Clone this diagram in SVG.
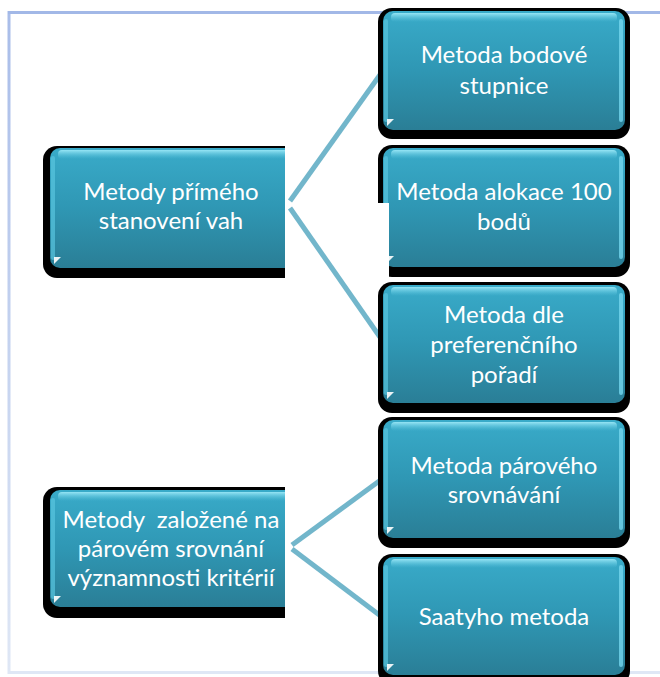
<svg xmlns="http://www.w3.org/2000/svg" width="660" height="677" viewBox="0 0 660 677">
  <defs>
    <linearGradient id="bodyFill" x1="0" y1="0" x2="0" y2="1">
      <stop offset="0" stop-color="#39abc9"/>
      <stop offset="0.5" stop-color="#2f97b4"/>
      <stop offset="1" stop-color="#2a7e96"/>
    </linearGradient>
    <linearGradient id="gloss" x1="0" y1="0" x2="0" y2="1">
      <stop offset="0" stop-color="#9be8f7" stop-opacity="0.95"/>
      <stop offset="1" stop-color="#5cc6e0" stop-opacity="0"/>
    </linearGradient>
    <linearGradient id="frameStroke" x1="0" y1="0" x2="0" y2="1">
      <stop offset="0" stop-color="#a9bde9"/>
      <stop offset="1" stop-color="#dfe7f5"/>
    </linearGradient>
    <clipPath id="leftClip" clipPathUnits="userSpaceOnUse">
      <rect x="0" y="0" width="285" height="677"/>
    </clipPath>
  </defs>
  <style>
    .shadow { fill: #000; }
    .body { fill: url(#bodyFill); }
    .gloss { fill: url(#gloss); }
    .edgeL { fill: #58c4de; opacity: 0.7; }
    .edgeR { fill: #74d6ee; opacity: 0.8; }
    .mark { fill: #ffffff; opacity: 0.9; }
    .label { font-family: Lato, "Open Sans", "Noto Sans", sans-serif; font-size: 24px; fill: #ffffff; text-anchor: middle; white-space: pre; }
    .link { stroke: #72b6cb; stroke-width: 5; fill: none; }
  </style>

  <!-- outer frame -->
  <rect x="0" y="0" width="660" height="677" fill="#ffffff"/>
  <rect x="9" y="12.5" width="660" height="660" fill="none" stroke="url(#frameStroke)" stroke-width="3"/>
  <line x1="8" y1="12.5" x2="660" y2="12.5" stroke="#a2b8e7" stroke-width="3"/>

  <!-- left column -->
  <g id="node-prime">
    <g clip-path="url(#leftClip)">
      <rect class="shadow" x="43" y="146" width="255" height="132" rx="14"/>
      <rect class="body" x="50" y="148" width="245" height="120" rx="10"/>
      <rect class="gloss" x="58" y="150" width="230" height="9" rx="4"/>
      <rect class="edgeL" x="51" y="156" width="4" height="104" rx="2"/>
      <path class="mark" d="M54 257 h7 l-7 7 z"/>
    </g>
    <text class="label" x="171" y="200">Metody přímého</text>
    <text class="label" x="171" y="229">stanovení vah</text>
  </g>

  <g id="node-pair">
    <g clip-path="url(#leftClip)">
      <rect class="shadow" x="43" y="487" width="255" height="131" rx="14"/>
      <rect class="body" x="50" y="490" width="245" height="117" rx="10"/>
      <rect class="gloss" x="58" y="492" width="230" height="9" rx="4"/>
      <rect class="edgeL" x="51" y="498" width="4" height="101" rx="2"/>
      <path class="mark" d="M54 596 h7 l-7 7 z"/>
    </g>
    <text class="label" x="171" y="528">Metody  založené na</text>
    <text class="label" x="171" y="557">párovém srovnání</text>
    <text class="label" x="171" y="586">významnosti kritérií</text>
  </g>

  <!-- connectors -->
  <g id="connectors">
    <line class="link" x1="290" y1="201" x2="382" y2="72"/>
    <line class="link" x1="290" y1="208" x2="382" y2="340"/>
    <line class="link" x1="292" y1="545" x2="382" y2="479"/>
    <line class="link" x1="292" y1="549" x2="382" y2="617"/>
  </g>

  <!-- right column -->
  <g id="node-scale">
    <rect class="shadow" x="378" y="8" width="252" height="131" rx="14"/>
    <rect class="body" x="383" y="11" width="242" height="119" rx="10"/>
    <rect class="gloss" x="391" y="13" width="226" height="9" rx="4"/>
    <rect class="edgeL" x="384" y="19" width="4" height="103" rx="2"/>
    <rect class="edgeR" x="619" y="19" width="4" height="103" rx="2"/>
    <path class="mark" d="M387 119 h7 l-7 7 z"/>
    <text class="label" x="504" y="63">Metoda bodové</text>
    <text class="label" x="504" y="94">stupnice</text>
  </g>

  <g id="node-alloc">
    <rect class="shadow" x="378" y="145" width="252" height="132" rx="14"/>
    <rect class="body" x="383" y="148" width="242" height="119" rx="10"/>
    <rect class="gloss" x="391" y="150" width="226" height="9" rx="4"/>
    <rect class="edgeL" x="384" y="156" width="4" height="103" rx="2"/>
    <rect class="edgeR" x="619" y="156" width="4" height="103" rx="2"/>
    <path class="mark" d="M387 256 h7 l-7 7 z"/>
    <rect x="370" y="203" width="19" height="77" fill="#ffffff"/>
    <text class="label" x="504" y="200">Metoda alokace 100</text>
    <text class="label" x="504" y="230">bodů</text>
  </g>

  <g id="node-order">
    <rect class="shadow" x="378" y="282" width="252" height="131" rx="14"/>
    <rect class="body" x="383" y="285" width="242" height="118" rx="10"/>
    <rect class="gloss" x="391" y="287" width="226" height="9" rx="4"/>
    <rect class="edgeL" x="384" y="293" width="4" height="102" rx="2"/>
    <rect class="edgeR" x="619" y="293" width="4" height="102" rx="2"/>
    <path class="mark" d="M387 392 h7 l-7 7 z"/>
    <text class="label" x="504" y="323">Metoda dle</text>
    <text class="label" x="504" y="353">preferenčního</text>
    <text class="label" x="504" y="383">pořadí</text>
  </g>

  <g id="node-pairwise">
    <rect class="shadow" x="378" y="417" width="252" height="131" rx="14"/>
    <rect class="body" x="383" y="420" width="242" height="118" rx="10"/>
    <rect class="gloss" x="391" y="422" width="226" height="9" rx="4"/>
    <rect class="edgeL" x="384" y="428" width="4" height="102" rx="2"/>
    <rect class="edgeR" x="619" y="428" width="4" height="102" rx="2"/>
    <path class="mark" d="M387 527 h7 l-7 7 z"/>
    <text class="label" x="504" y="474">Metoda párového</text>
    <text class="label" x="504" y="503">srovnávání</text>
  </g>

  <g id="node-saaty">
    <rect class="shadow" x="378" y="554" width="252" height="131" rx="14"/>
    <rect class="body" x="383" y="557" width="242" height="118" rx="10"/>
    <rect class="gloss" x="391" y="559" width="226" height="9" rx="4"/>
    <rect class="edgeL" x="384" y="565" width="4" height="102" rx="2"/>
    <rect class="edgeR" x="619" y="565" width="4" height="102" rx="2"/>
    <path class="mark" d="M387 664 h7 l-7 7 z"/>
    <text class="label" x="504" y="625">Saatyho metoda</text>
  </g>
</svg>
